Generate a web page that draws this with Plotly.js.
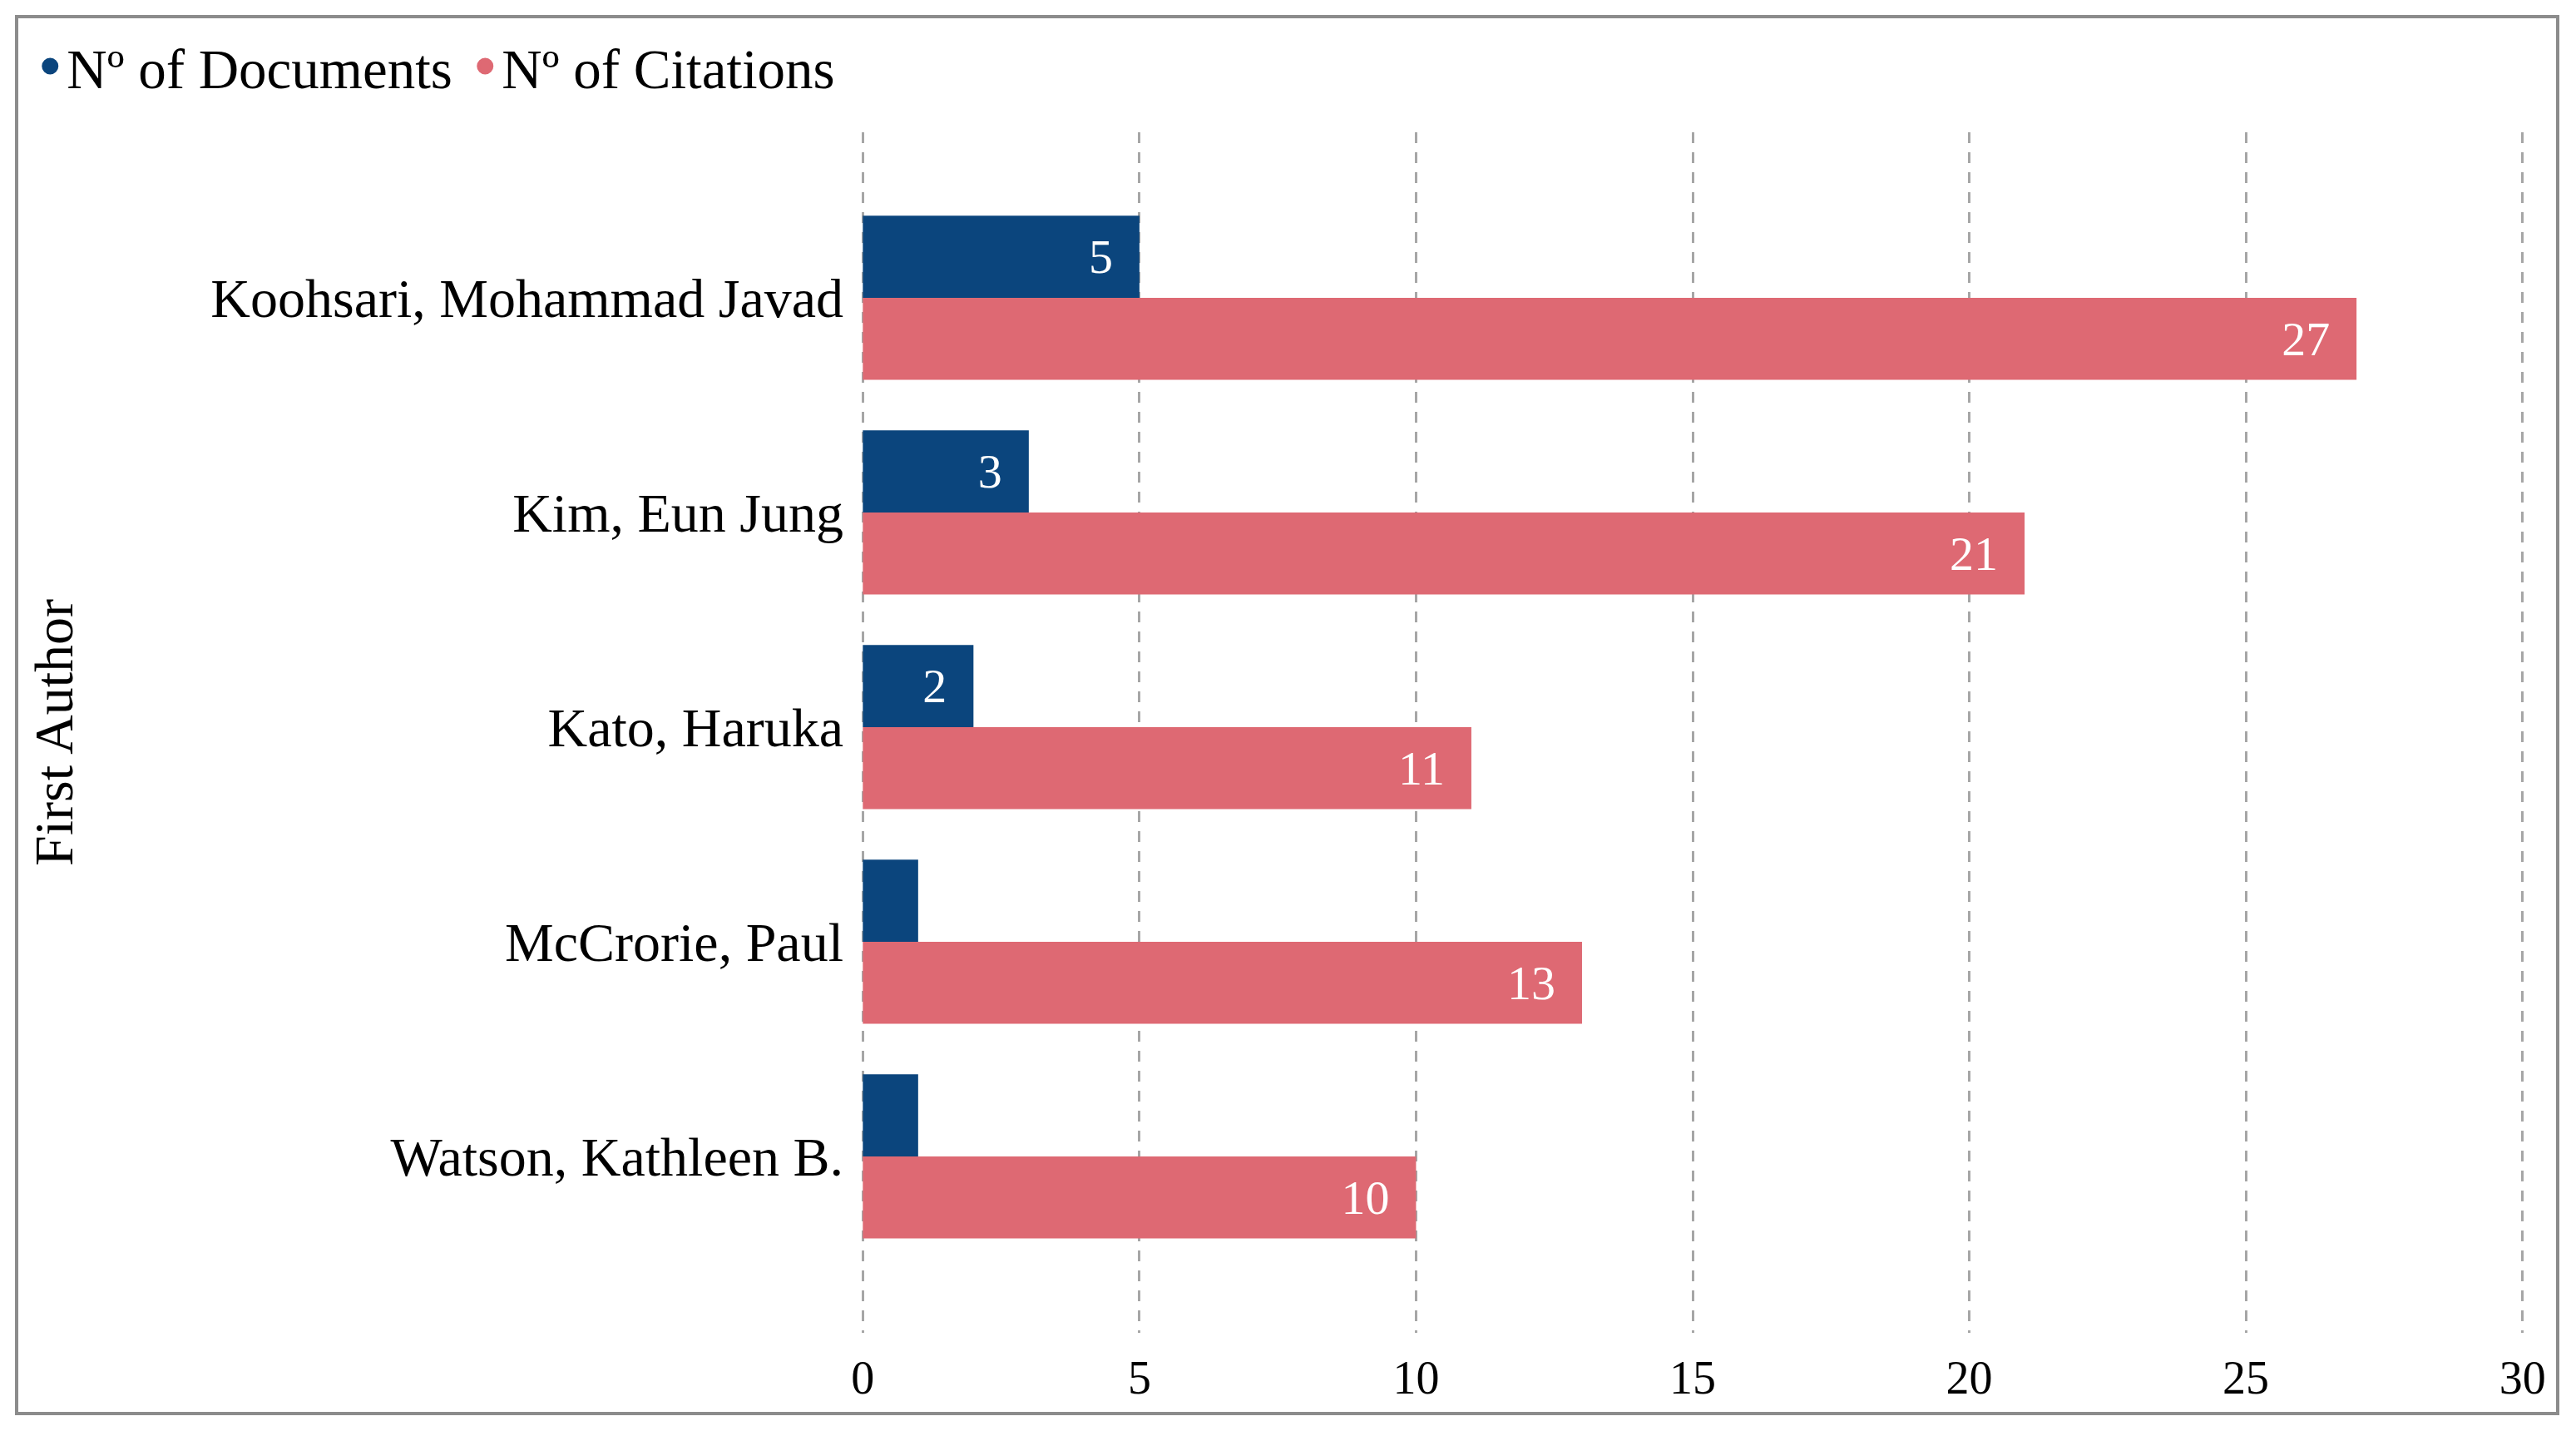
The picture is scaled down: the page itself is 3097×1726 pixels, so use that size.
<!DOCTYPE html>
<html>
<head>
<meta charset="utf-8">
<script src="https://cdn.plot.ly/plotly-3.0.1.min.js"></script>
<style>
  html, body { margin: 0; padding: 0; background: #ffffff; }
  #chart { width: 3097px; height: 1726px; }
</style>
</head>
<body>
<div id="chart"></div>
<script>
// ---- data ----
const authors = [
  "Koohsari, Mohammad Javad",
  "Kim, Eun Jung",
  "Kato, Haruka",
  "McCrorie, Paul",
  "Watson, Kathleen B."
];
const documents = [5, 3, 2, 1, 1];
const citations = [27, 21, 11, 13, 10];
const seriesNames = ["N\u00ba of Documents", "N\u00ba of Citations"];
const xTicks = [0, 5, 10, 15, 20, 25, 30];
const axisTitle = "First Author";

// ---- styles ----
const BLUE = "#0B457D";
const PINK = "#DE6973";
const SERIF = "Liberation Serif, Times New Roman, serif";

const labelText = (vals, minShown) => vals.map(v => (v >= minShown ? v + "\u00a0\u00a0" : ""));

const traces = [
  {
    type: "bar", orientation: "h", name: seriesNames[0], showlegend: false,
    y: authors, x: documents,
    marker: { color: BLUE },
    text: labelText(documents, 2),
    textposition: "inside", insidetextanchor: "end",
    textfont: { family: SERIF, size: 58, color: "#ffffff" },
    hoverinfo: "x+y"
  },
  {
    type: "bar", orientation: "h", name: seriesNames[1], showlegend: false,
    y: authors, x: citations,
    marker: { color: PINK },
    text: labelText(citations, 2),
    textposition: "inside", insidetextanchor: "end",
    textfont: { family: SERIF, size: 58, color: "#ffffff" },
    hoverinfo: "x+y"
  },
  // legend entries (round markers like the original)
  {
    type: "scatter", mode: "markers", name: seriesNames[0],
    x: [null], y: [null], marker: { color: BLUE, size: 16, symbol: "circle", line: { color: BLUE, width: 4 } },
    hoverinfo: "skip"
  },
  {
    type: "scatter", mode: "markers", name: seriesNames[1],
    x: [null], y: [null], marker: { color: PINK, size: 16, symbol: "circle", line: { color: PINK, width: 4 } },
    hoverinfo: "skip"
  }
];

const ML = 1034, MR = 61, MT = 159, MB = 124;
const PW = 3097 - ML - MR, PH = 1726 - MT - MB;

const layout = {
  width: 3097, height: 1726,
  paper_bgcolor: "#ffffff", plot_bgcolor: "#ffffff",
  margin: { l: ML, r: MR, t: MT, b: MB, pad: 0 },
  barmode: "group", bargap: 0.235, bargroupgap: 0,
  font: { family: SERIF, color: "#000000", size: 56 },
  showlegend: true,
  legend: {
    orientation: "h", xref: "container", yref: "container",
    x: 0.013, y: 1 - 80 / 1726, xanchor: "left", yanchor: "middle",
    font: { family: SERIF, size: 67, color: "#000000" },
    itemsizing: "trace", itemwidth: 30, entrywidth: 478, entrywidthmode: "pixels",
    bgcolor: "rgba(0,0,0,0)"
  },
  xaxis: {
    range: [-0.05, 30.05], tickvals: xTicks, ticktext: xTicks.map(String),
    showgrid: true, gridcolor: "#A6A6A6", gridwidth: 3, griddash: "13px,11px",
    zeroline: false, showline: false, ticks: "",
    tickfont: { family: SERIF, size: 56, color: "#000000" },
    ticklabelstandoff: 16, fixedrange: true
  },
  yaxis: {
    type: "category", categoryarray: authors, categoryorder: "array",
    range: [4.822, -0.771],
    showgrid: false, zeroline: false, showline: false, ticks: "",
    tickfont: { family: SERIF, size: 66, color: "#000000" },
    ticklabelstandoff: 19,
    title: { text: axisTitle, font: { family: SERIF, size: 66, color: "#000000" }, standoff: 144 },
    fixedrange: true
  },
  shapes: [
    {
      type: "rect", xref: "paper", yref: "paper", layer: "above",
      x0: (20 - ML) / PW, x1: (3075 - ML) / PW,
      y0: (1602 - 1699) / PH, y1: (1602 - 20) / PH,
      line: { color: "#8C8C8C", width: 4 }, fillcolor: "rgba(0,0,0,0)"
    }
  ]
};

Plotly.newPlot("chart", traces, layout, { displayModeBar: false, staticPlot: true });
</script>
</body>
</html>
